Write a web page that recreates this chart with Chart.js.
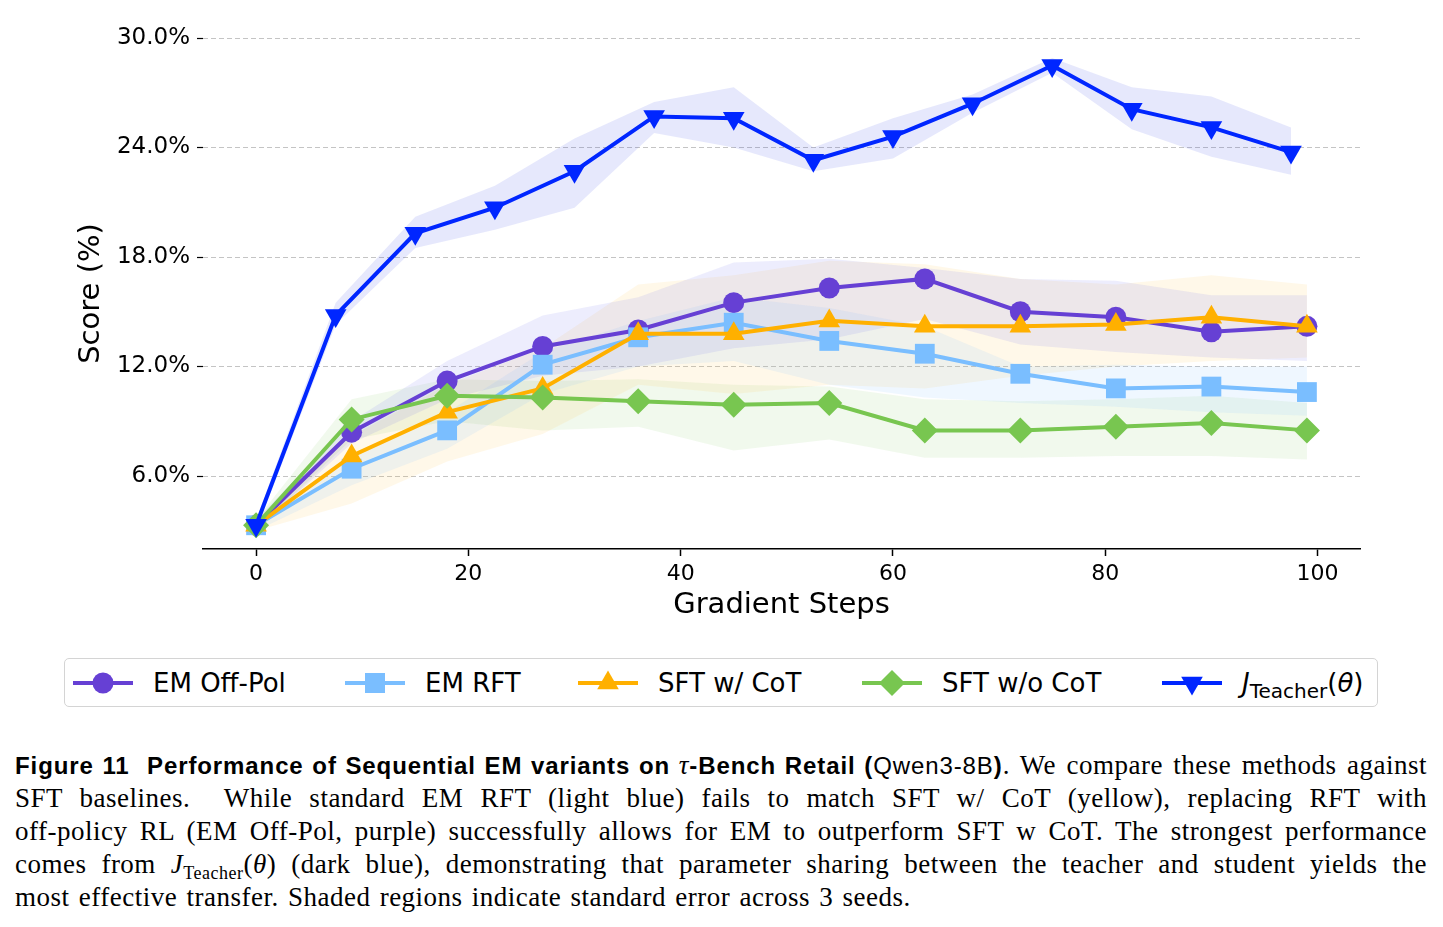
<!DOCTYPE html>
<html>
<head>
<meta charset="utf-8">
<script src="https://cdn.jsdelivr.net/npm/chart.js@4.4.1/dist/chart.umd.min.js"></script>
<style>
body{margin:0;background:#fff;width:1443px;height:927px;position:relative;overflow:hidden;font-family:"DejaVu Sans";}
#wrap{position:absolute;left:0;top:0;width:1443px;height:640px;}
#legend{position:absolute;left:64px;top:658px;width:1312px;height:47px;border:1px solid #d4d4d4;border-radius:5px;}
.item{position:absolute;top:0;height:47px;display:flex;align-items:center;font-size:26px;color:#000;white-space:nowrap;}
.item svg{margin-right:20px;}
#caption{position:absolute;left:15px;top:749px;width:1412px;font-family:"Liberation Serif";font-size:27px;letter-spacing:0.5px;word-spacing:2px;line-height:33px;color:#000;}
.ln{text-align:justify;text-align-last:justify;height:33px;overflow:visible;}
.last{text-align:left;text-align-last:left;}
.hd{font-family:"Liberation Sans";font-weight:bold;font-size:24px;letter-spacing:0.9px;word-spacing:0;}
.tt{font-family:"Liberation Sans";font-weight:normal;font-size:24px;}
</style>
</head>
<body>
<div id="wrap"><canvas id="myChart" width="1443" height="640"></canvas></div>
<div id="legend"></div>
<div id="caption">
<div class="ln"><span class="hd">Figure 11&nbsp; Performance of Sequential EM variants on <i style="font-family:'Liberation Serif';font-weight:normal;font-size:27px">τ</i>-Bench Retail (<span class="tt">Qwen3-8B</span>)</span>. We compare these methods against</div>
<div class="ln">SFT baselines.&nbsp; While standard EM RFT (light blue) fails to match SFT w/ CoT (yellow), replacing RFT with</div>
<div class="ln">off-policy RL (EM Off-Pol, purple) successfully allows for EM to outperform SFT w CoT. The strongest performance</div>
<div class="ln">comes from <i>J</i><sub style="font-size:18px">Teacher</sub>(<i>θ</i>) (dark blue), demonstrating that parameter sharing between the teacher and student yields the</div>
<div class="ln last">most effective transfer. Shaded regions indicate standard error across 3 seeds.</div>
</div>
<script>
// шаги обучения
const stepsTeacher = [0, 7.5, 15, 22.5, 30, 37.5, 45, 52.5, 60, 67.5, 75, 82.5, 90, 97.5];
const stepsOther = [0, 9, 18, 27, 36, 45, 54, 63, 72, 81, 90, 99];

// значения, %
const offPol   = [3.3, 8.4, 11.2, 13.1, 14.0, 15.5, 16.3, 16.8, 15.0, 14.7, 13.9, 14.2];
const offPolHi = [3.6, 9.0, 12.3, 14.8, 15.8, 17.7, 17.9, 17.4, 16.8, 16.7, 15.9, 15.9];
const offPolLo = [3.0, 7.8, 10.2, 11.5, 12.0, 13.0, 13.5, 14.6, 13.2, 12.8, 12.5, 12.3];

const emRft   = [3.3, 6.4, 8.5, 12.1, 13.6, 14.4, 13.4, 12.7, 11.6, 10.8, 10.9, 10.6];
const emRftHi = [3.6, 7.0, 9.5, 12.8, 14.5, 15.8, 15.2, 14.2, 12.0, 12.1, 12.0, 12.0];
const emRftLo = [3.0, 5.5, 7.5, 10.5, 12.0, 12.3, 11.0, 10.3, 10.0, 9.8, 9.5, 9.3];

const sftCot   = [3.3, 7.1, 9.5, 10.8, 13.8, 13.8, 14.5, 14.2, 14.2, 14.3, 14.7, 14.2];
const sftCotHi = [3.6, 8.2, 11.0, 13.0, 16.5, 17.0, 17.8, 17.6, 16.8, 16.5, 17.0, 16.5];
const sftCotLo = [3.0, 4.5, 6.8, 8.3, 11.0, 10.5, 11.0, 10.8, 11.5, 12.0, 12.3, 12.5];

const sftNoCot   = [3.3, 9.1, 10.4, 10.3, 10.1, 9.9, 10.0, 8.5, 8.5, 8.7, 8.9, 8.5];
const sftNoCotHi = [3.6, 10.2, 11.3, 11.2, 11.3, 11.0, 10.9, 10.2, 10.1, 10.2, 10.4, 10.0];
const sftNoCotLo = [3.0, 8.0, 9.0, 8.5, 8.7, 7.4, 8.0, 7.0, 7.0, 7.1, 7.1, 6.9];

const teacher   = [3.3, 14.8, 19.3, 20.7, 22.7, 25.7, 25.6, 23.3, 24.6, 26.4, 28.5, 26.1, 25.1, 23.75];
const teacherHi = [3.6, 15.5, 20.2, 21.9, 24.5, 26.5, 27.3, 24.0, 25.6, 26.9, 28.9, 27.3, 26.8, 25.1];
const teacherLo = [3.0, 14.3, 18.5, 19.5, 20.7, 24.8, 24.0, 22.7, 23.4, 25.9, 28.1, 25.0, 23.5, 22.5];

const yTicks = [6, 12, 18, 24, 30];
const xTicks = [0, 20, 40, 60, 80, 100];

function pts(xs, ys){
    return xs.map(function(x, i){ return {x: x, y: ys[i]}; });
}

// серии: имя, цвет, маркер
const series = [
    {name: 'EM Off-Pol', xs: stepsOther, v: offPol, hi: offPolHi, lo: offPolLo, color: 'rgb(102,64,212)', band: 'rgba(110,110,235,0.12)', style: 'circle', r: 10.5, rot: 0, order: 4},
    {name: 'EM RFT', xs: stepsOther, v: emRft, hi: emRftHi, lo: emRftLo, color: 'rgb(122,190,255)', band: 'rgba(122,190,255,0.12)', style: 'rect', r: 14, rot: 0, order: 3},
    {name: 'SFT w/ CoT', xs: stepsOther, v: sftCot, hi: sftCotHi, lo: sftCotLo, color: 'rgb(255,176,0)', band: 'rgba(255,190,40,0.1)', style: 'triangle', r: 12.5, rot: 0, order: 2},
    {name: 'SFT w/o CoT', xs: stepsOther, v: sftNoCot, hi: sftNoCotHi, lo: sftNoCotLo, color: 'rgb(120,198,80)', band: 'rgba(120,198,80,0.1)', style: 'rectRot', r: 13, rot: 0, order: 1},
    {name: 'teacher', xs: stepsTeacher, v: teacher, hi: teacherHi, lo: teacherLo, color: 'rgb(0,38,255)', band: 'rgba(60,80,235,0.13)', style: 'triangle', r: 12.5, rot: 180, order: 0}
];

const datasets = [];
series.forEach(function(s){
    datasets.push({label: s.name + ' hi', data: pts(s.xs, s.hi), borderWidth: 0, pointRadius: 0, fill: false, order: 10});
    datasets.push({label: s.name + ' lo', data: pts(s.xs, s.lo), borderWidth: 0, pointRadius: 0, fill: '-1', backgroundColor: s.band, order: 10});
});
series.forEach(function(s){
    datasets.push({
        label: s.name, data: pts(s.xs, s.v), borderColor: s.color, backgroundColor: s.color,
        borderWidth: 4, pointStyle: s.style, pointRadius: s.r, pointRotation: s.rot,
        pointBackgroundColor: s.color, pointBorderWidth: 0, fill: false, tension: 0, order: s.order
    });
});

var ctx = document.getElementById('myChart').getContext('2d');
var myChart = new Chart(ctx, {
    type: 'line',
    data: {datasets: datasets},
    options: {
        responsive: false,
        animation: false,
        devicePixelRatio: 1,
        layout: {padding: {top: 38, right: 83, left: 0, bottom: 0}},
        plugins: {legend: {display: false}, tooltip: {enabled: false}},
        scales: {
            x: {
                type: 'linear', min: -5, max: 104,
                afterBuildTicks: function(s){ s.ticks = xTicks.map(function(v){ return {value: v}; }); },
                afterFit: function(s){ s.height = 91; },
                grid: {display: true, drawOnChartArea: false, tickLength: 7, tickColor: '#000', tickWidth: 1.5},
                border: {display: true, color: '#000', width: 1.5},
                ticks: {color: '#000', font: {family: 'DejaVu Sans', size: 22}, padding: 5, maxRotation: 0},
                title: {display: true, text: 'Gradient Steps', color: '#000', font: {family: 'DejaVu Sans', size: 29}, padding: {top: 0, bottom: 17}}
            },
            y: {
                min: 2, max: 30,
                afterBuildTicks: function(s){ s.ticks = yTicks.map(function(v){ return {value: v}; }); },
                afterFit: function(s){ s.width = 203; },
                grid: {color: '#c4c4c4', lineWidth: 1, tickLength: 6, tickColor: '#000', tickWidth: 1.2, tickBorderDash: [0, 0]},
                border: {display: false, dash: [5, 3]},
                ticks: {color: '#000', font: {family: 'DejaVu Sans', size: 23}, padding: 7,
                    callback: function(v){ return v.toFixed(1) + '%'; }},
                title: {display: true, text: 'Score (%)', color: '#000', font: {family: 'DejaVu Sans', size: 29}, padding: {top: 74, bottom: 0}}
            }
        }
    }
});

// легенда
const legendLeft = [8, 280, 513, 797, 1097];
function markerSvg(s){
    let m = '';
    const c = s.color;
    if (s.style === 'circle') m = '<circle cx="30" cy="24" r="10.5" fill="' + c + '"/>';
    else if (s.style === 'rect') m = '<rect x="20" y="14" width="20" height="20" fill="' + c + '"/>';
    else if (s.style === 'rectRot') m = '<polygon points="30,11 43,24 30,37 17,24" fill="' + c + '"/>';
    else if (s.rot === 0) m = '<polygon points="30,11.5 40.8,30.2 19.2,30.2" fill="' + c + '"/>';
    else m = '<polygon points="30,36.5 40.8,17.8 19.2,17.8" fill="' + c + '"/>';
    return '<svg width="60" height="48"><line x1="0" y1="24" x2="60" y2="24" stroke="' + c + '" stroke-width="4"/>' + m + '</svg>';
}
let html = '';
series.forEach(function(s, i){
    let txt = s.name;
    if (s.name === 'teacher') txt = '<i>J</i><span style="font-size:20px;position:relative;top:6px">Teacher</span>(<i>θ</i>)';
    html += '<div class="item" style="left:' + legendLeft[i] + 'px">' + markerSvg(s) + '<span>' + txt + '</span></div>';
});
document.getElementById('legend').innerHTML = html;
</script>
</body>
</html>
